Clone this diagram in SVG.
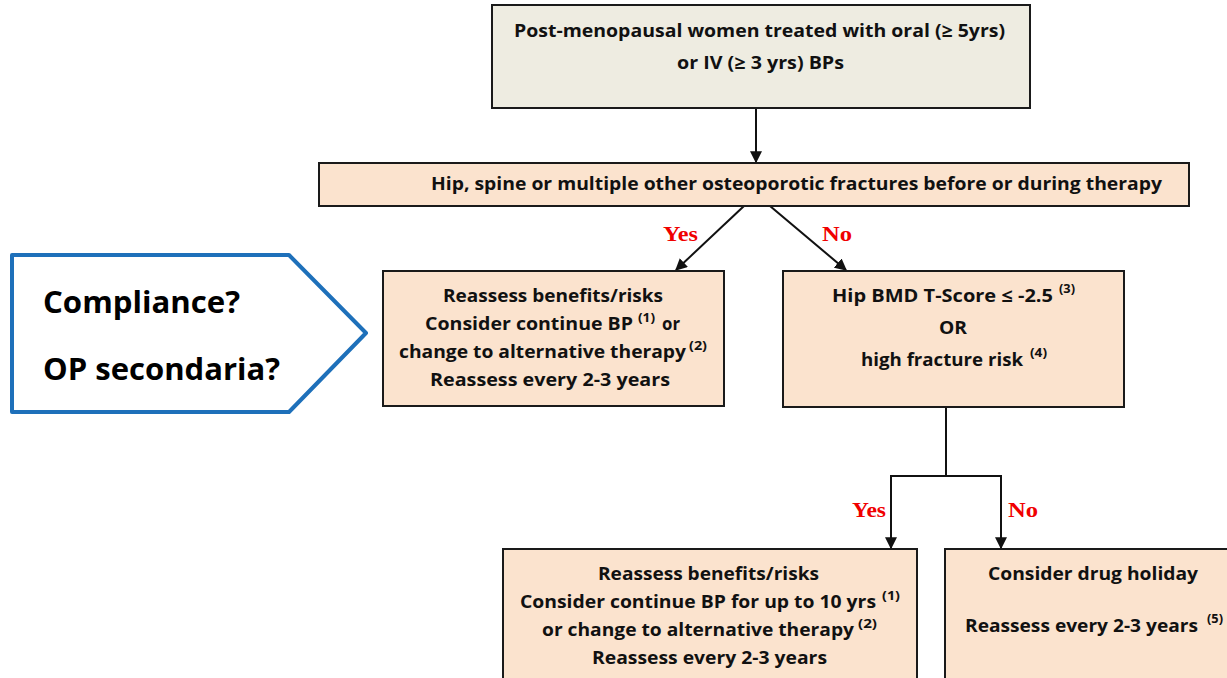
<svg xmlns="http://www.w3.org/2000/svg" width="1227" height="678" viewBox="0 0 1227 678">
  <style>
    .box { stroke: #1a1a1a; stroke-width: 2; }
    .grey { fill: #EEECE1; }
    .peach { fill: #FBE3CE; }
    .t { font-family: "Open Sans", "Liberation Sans", sans-serif; font-weight: 700; font-size: 18px; fill: #111; }
    .big { font-size: 31px; fill: #000; }
    .sup { font-size: 11.5px; }
    .yn { font-family: "Liberation Serif", "Times New Roman", serif; font-weight: 700; font-size: 21px; fill: #F00000; }
    .wire { fill: none; stroke: #111; stroke-width: 2; }
  </style>
  <defs>
    <marker id="arrow" viewBox="0 0 10 10" refX="9" refY="5" markerWidth="6" markerHeight="6" markerUnits="strokeWidth" orient="auto">
      <path d="M0,0 L10,5 L0,10 z" fill="#111"/>
    </marker>
  </defs>
  <rect width="1227" height="678" fill="#fff"/>

  <!-- connectors -->
  <g id="connectors">
    <line class="wire" x1="756" y1="108" x2="756" y2="162" marker-end="url(#arrow)"/>
    <line class="wire" x1="744" y1="206" x2="676" y2="270" marker-end="url(#arrow)"/>
    <line class="wire" x1="770" y1="206" x2="846" y2="270" marker-end="url(#arrow)"/>
    <polyline class="wire" points="946,407 946,476"/>
    <polyline class="wire" points="891,548 891,476 1001,476 1001,548" marker-end="url(#arrow)"/>
    <line class="wire" x1="891" y1="480" x2="891" y2="548" marker-end="url(#arrow)"/>
    <text class="yn" x="663" y="241" textLength="35" lengthAdjust="spacingAndGlyphs">Yes</text>
    <text class="yn" x="822" y="241" textLength="30" lengthAdjust="spacingAndGlyphs">No</text>
    <text class="yn" x="852" y="517" textLength="34" lengthAdjust="spacingAndGlyphs">Yes</text>
    <text class="yn" x="1008" y="517" textLength="30" lengthAdjust="spacingAndGlyphs">No</text>
  </g>

  <!-- callout -->
  <g id="callout">
    <path d="M12,255 L289,255 L366,333 L289,412 L12,412 Z" fill="#fff" stroke="#1E70BA" stroke-width="4" stroke-linejoin="round"/>
    <text class="t big" x="43" y="313" textLength="197" lengthAdjust="spacingAndGlyphs">Compliance?</text>
    <text class="t big" x="43" y="380" textLength="237" lengthAdjust="spacingAndGlyphs">OP secondaria?</text>
  </g>

  <!-- start -->
  <g id="start">
    <rect class="box grey" x="492" y="5" width="538" height="103"/>
    <text class="t" x="514" y="37" font-size="19" textLength="491" lengthAdjust="spacingAndGlyphs">Post-menopausal women treated with oral (≥ 5yrs)</text>
    <text class="t" x="677" y="69" font-size="19" textLength="167" lengthAdjust="spacingAndGlyphs">or IV (≥ 3 yrs) BPs</text>
  </g>

  <!-- fracture question -->
  <g id="fractures">
    <rect class="box peach" x="319" y="163" width="870" height="43"/>
    <text class="t" x="431" y="190" textLength="731" lengthAdjust="spacingAndGlyphs">Hip, spine or multiple other osteoporotic fractures before or during therapy</text>
  </g>

  <!-- yes branch -->
  <g id="reassess-a">
    <rect class="box peach" x="383" y="271" width="341" height="135"/>
    <text class="t" x="443" y="302" textLength="220" lengthAdjust="spacingAndGlyphs">Reassess benefits/risks</text>
    <text class="t" x="425" y="330" textLength="208" lengthAdjust="spacingAndGlyphs">Consider continue BP</text>
    <text class="t sup" x="638" y="322" textLength="17" lengthAdjust="spacingAndGlyphs">(1)</text>
    <text class="t" x="662" y="330" textLength="18" lengthAdjust="spacingAndGlyphs">or</text>
    <text class="t" x="399" y="358" textLength="287" lengthAdjust="spacingAndGlyphs">change to alternative therapy</text>
    <text class="t sup" x="689" y="350" textLength="18" lengthAdjust="spacingAndGlyphs">(2)</text>
    <text class="t" x="430" y="386" textLength="240" lengthAdjust="spacingAndGlyphs">Reassess every 2-3 years</text>
  </g>

  <!-- no branch -->
  <g id="bmd">
    <rect class="box peach" x="783" y="271" width="341" height="136"/>
    <text class="t" x="832" y="302" textLength="221" lengthAdjust="spacingAndGlyphs">Hip BMD T-Score ≤ -2.5</text>
    <text class="t sup" x="1059" y="293" textLength="16" lengthAdjust="spacingAndGlyphs">(3)</text>
    <text class="t" x="939" y="334" textLength="28" lengthAdjust="spacingAndGlyphs">OR</text>
    <text class="t" x="861" y="366" textLength="162" lengthAdjust="spacingAndGlyphs">high fracture risk</text>
    <text class="t sup" x="1030" y="357" textLength="17" lengthAdjust="spacingAndGlyphs">(4)</text>
  </g>

  <!-- high risk -->
  <g id="reassess-b">
    <rect class="box peach" x="503" y="549" width="414" height="140"/>
    <text class="t" x="598" y="580" textLength="221" lengthAdjust="spacingAndGlyphs">Reassess benefits/risks</text>
    <text class="t" x="520" y="608" textLength="356" lengthAdjust="spacingAndGlyphs">Consider continue BP for up to 10 yrs</text>
    <text class="t sup" x="882" y="600" textLength="18" lengthAdjust="spacingAndGlyphs">(1)</text>
    <text class="t" x="542" y="636" textLength="312" lengthAdjust="spacingAndGlyphs">or change to alternative therapy</text>
    <text class="t sup" x="858" y="628" textLength="19" lengthAdjust="spacingAndGlyphs">(2)</text>
    <text class="t" x="592" y="664" textLength="235" lengthAdjust="spacingAndGlyphs">Reassess every 2-3 years</text>
  </g>

  <!-- low risk -->
  <g id="holiday">
    <rect class="box peach" x="945" y="549" width="290" height="140"/>
    <text class="t" x="988" y="580" textLength="210" lengthAdjust="spacingAndGlyphs">Consider drug holiday</text>
    <text class="t" x="965" y="632" textLength="233" lengthAdjust="spacingAndGlyphs">Reassess every 2-3 years</text>
    <text class="t sup" x="1207" y="623" textLength="16" lengthAdjust="spacingAndGlyphs">(5)</text>
  </g>
</svg>
